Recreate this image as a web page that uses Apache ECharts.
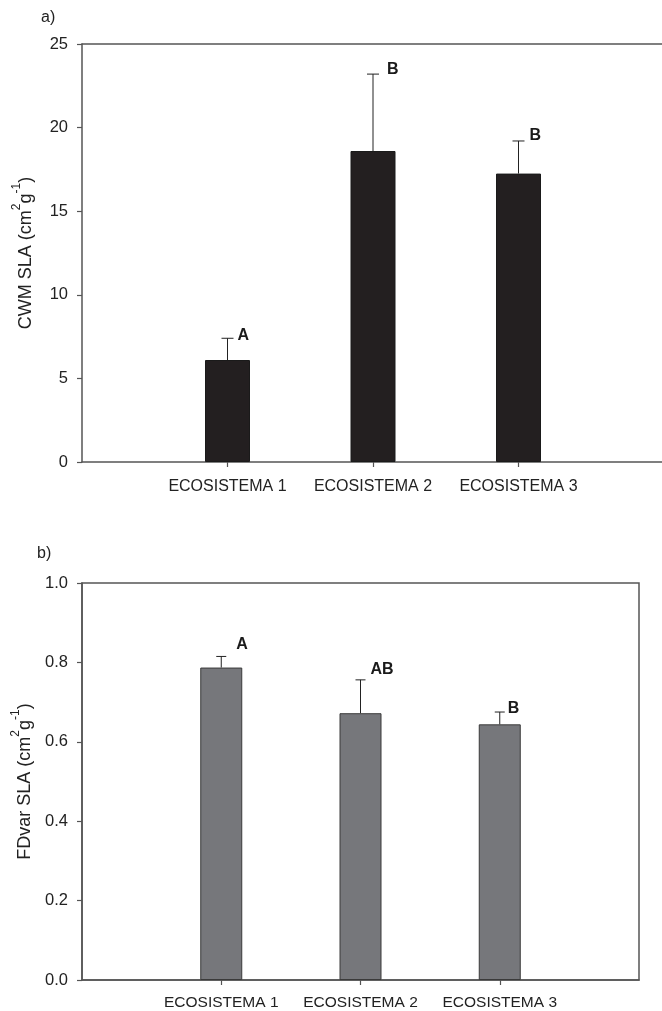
<!DOCTYPE html>
<html>
<head>
<meta charset="utf-8">
<script src="https://cdn.jsdelivr.net/npm/echarts@6/dist/echarts.min.js"></script>
<style>
html,body{margin:0;padding:0;background:#fff;}
#chart{width:662px;height:1011px;}
</style>
</head>
<body>
<div id="chart"></div>
<script>
// ---- data ----
const categories = ['', 'ECOSISTEMA 1', 'ECOSISTEMA 2', 'ECOSISTEMA 3', ''];
const cwmMean = [6.1, 18.6, 17.25];
const cwmUpper = [7.4, 23.2, 19.2];
const cwmLetters = ['A', 'B', 'B'];
const fdMean = [0.787, 0.672, 0.644];
const fdUpper = [0.815, 0.756, 0.675];
const fdLetters = ['A', 'AB', 'B'];
const cwmTicks = [0, 5, 10, 15, 20, 25];
const fdTicks = [0.0, 0.2, 0.4, 0.6, 0.8, 1.0];

// ---- style constants ----
const FONT = 'Liberation Sans, Arial, Helvetica, sans-serif';
const AXIS = '#555';
const cwmLabelOffset = [[10, -3], [14, -5], [11, -5]];
const fdLabelOffset = [[15, -12], [10, -10], [8, -3]];

const chart = echarts.init(document.getElementById('chart'), null, {renderer: 'canvas'});

function barData(vals) {
  return vals.map((v, i) => [categories[i + 1], v]);
}
function errData(means, uppers, letters) {
  return means.map((m, i) => [i + 1, m, uppers[i], letters[i]]);
}
function errRender(capHalf, offsets) {
  return function (params, api) {
    const idx = params.dataIndex;
    const x = api.value(0);
    const top = api.coord([x, api.value(1)]);
    const up = api.coord([x, api.value(2)]);
    const off = offsets[idx];
    return {
      type: 'group',
      children: [
        {type: 'line', shape: {x1: top[0], y1: top[1], x2: up[0], y2: up[1]}, style: {stroke: '#222', lineWidth: 1}},
        {type: 'line', shape: {x1: up[0] - capHalf, y1: up[1], x2: up[0] + capHalf, y2: up[1]}, style: {stroke: '#222', lineWidth: 1}},
        {type: 'text', style: {text: api.value(3), x: up[0] + off[0], y: up[1] + off[1], font: 'bold 16px ' + FONT, fill: '#1a1a1a', textAlign: 'left', textVerticalAlign: 'middle'}}
      ]
    };
  };
}

function yName(prefix) {
  return '{n|' + prefix + ' (cm}{s|2}{n|g}{s|-1}{n|)}';
}
const nameRich = {
  n: {fontSize: 18, fontFamily: FONT, color: '#222', lineHeight: 24, verticalAlign: 'bottom'},
  s: {fontSize: 12, fontFamily: FONT, color: '#222', lineHeight: 24, verticalAlign: 'top'}
};

function catAxis(grid, fontSize, margin) {
  return {
    type: 'category',
    gridIndex: grid,
    data: categories,
    boundaryGap: false,
    axisLine: {lineStyle: {color: AXIS, width: 1.5}},
    axisTick: {length: 5, inside: false, lineStyle: {color: AXIS, width: 1.2}, interval: (i) => i > 0 && i < 4},
    axisLabel: {interval: 0, margin: margin, fontSize: fontSize, fontFamily: FONT, color: '#222'},
    splitLine: {show: false}
  };
}

const option = {
  backgroundColor: '#fff',
  animation: false,
  title: [
    {text: 'a)', left: 41, top: 10, padding: 0, textStyle: {fontSize: 16, fontWeight: 'normal', fontFamily: FONT, color: '#222'}},
    {text: 'b)', left: 37, top: 546, padding: 0, textStyle: {fontSize: 16, fontWeight: 'normal', fontFamily: FONT, color: '#222'}}
  ],
  grid: [
    {left: 82, top: 44, width: 582, height: 418, containLabel: false, outerBoundsMode: 'none'},
    {left: 82, top: 583, width: 557, height: 397, containLabel: false, outerBoundsMode: 'none', show: true, borderColor: AXIS, borderWidth: 1.5, backgroundColor: 'transparent'}
  ],
  xAxis: [
    catAxis(0, 16, 17),
    catAxis(1, 15.5, 15),
    {type: 'category', data: categories, boundaryGap: false, gridIndex: 0, position: 'top',
     axisLine: {lineStyle: {color: AXIS, width: 1.5}}, axisTick: {show: false}, axisLabel: {show: false}}
  ],
  yAxis: [
    {type: 'value', gridIndex: 0, min: cwmTicks[0], max: cwmTicks[cwmTicks.length - 1], interval: 5,
     name: yName('CWM SLA'), nameLocation: 'middle', nameGap: 47, nameRotate: 90,
     nameTextStyle: {rich: nameRich},
     axisLine: {show: true, lineStyle: {color: AXIS, width: 1.5}},
     axisTick: {show: true, length: 5, lineStyle: {color: AXIS, width: 1.2}},
     axisLabel: {margin: 14, fontSize: 16.5, fontFamily: FONT, color: '#222'},
     splitLine: {show: false}},
    {type: 'value', gridIndex: 1, min: fdTicks[0], max: fdTicks[fdTicks.length - 1], interval: 0.2,
     name: yName('FDvar SLA'), nameLocation: 'middle', nameGap: 47, nameRotate: 90,
     nameTextStyle: {rich: nameRich},
     axisLine: {show: true, lineStyle: {color: AXIS, width: 1.5}},
     axisTick: {show: true, length: 5, lineStyle: {color: AXIS, width: 1.2}},
     axisLabel: {margin: 14, fontSize: 16.5, fontFamily: FONT, color: '#222', formatter: (v) => v.toFixed(1)},
     splitLine: {show: false}}
  ],
  series: [
    {type: 'bar', xAxisIndex: 0, yAxisIndex: 0, data: barData(cwmMean), barWidth: 45,
     itemStyle: {color: '#231f20', borderColor: '#1a1a1a', borderWidth: 1}},
    {type: 'custom', xAxisIndex: 0, yAxisIndex: 0, data: errData(cwmMean, cwmUpper, cwmLetters),
     renderItem: errRender(6, cwmLabelOffset), z: 5},
    {type: 'bar', xAxisIndex: 1, yAxisIndex: 1, data: barData(fdMean), barWidth: 42,
     itemStyle: {color: '#76777b', borderColor: '#3a3a3a', borderWidth: 1}},
    {type: 'custom', xAxisIndex: 1, yAxisIndex: 1, data: errData(fdMean, fdUpper, fdLetters),
     renderItem: errRender(5, fdLabelOffset), z: 5}
  ]
};
chart.setOption(option);
</script>
</body>
</html>
